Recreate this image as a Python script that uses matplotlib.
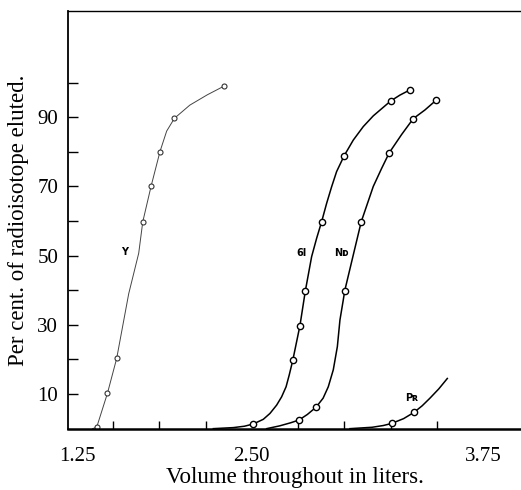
import matplotlib
matplotlib.use("Agg")
import matplotlib.pyplot as plt

# volume (liters) / per cent eluted
y_pts_x = [1.662, 1.720, 1.770, 1.911, 1.956, 2.004, 2.082, 2.350]
y_pts_y = [0.4, 10.2, 20.3, 59.8, 70.1, 80.1, 89.7, 99.0]
y_line_x = [1.640, 1.662, 1.720, 1.770, 1.835, 1.889, 1.911, 1.956, 2.004, 2.040,
            2.082, 2.165, 2.260, 2.350]
y_line_y = [0.0, 0.4, 10.2, 20.3, 39.0, 50.7, 59.8, 70.1, 80.1, 86.0,
            89.7, 93.5, 96.5, 99.0]

gd_pts_x = [2.508, 2.721, 2.760, 2.789, 2.877, 2.999, 3.250, 3.354]
gd_pts_y = [1.35, 19.7, 29.8, 39.8, 59.8, 78.9, 94.7, 97.9]
gd_line_x = [2.292, 2.400, 2.460, 2.508, 2.562, 2.598, 2.634, 2.661, 2.685, 2.702,
             2.721, 2.760, 2.789, 2.823, 2.850, 2.877, 2.904, 2.931, 2.958, 2.999,
             3.048, 3.102, 3.156, 3.250, 3.300, 3.354]
gd_line_y = [0.0, 0.3, 0.7, 1.35, 2.7, 4.4, 6.8, 9.2, 12.1, 15.5,
             19.7, 29.8, 39.8, 49.7, 55.0, 59.8, 65.1, 69.9, 74.3, 78.9,
             83.4, 87.3, 90.4, 94.7, 96.4, 97.9]

nd_pts_x = [2.755, 2.847, 3.002, 3.091, 3.242, 3.372, 3.495]
nd_pts_y = [2.5, 6.2, 39.9, 59.8, 79.7, 89.6, 94.9]
nd_line_x = [2.580, 2.650, 2.710, 2.755, 2.800, 2.847, 2.885, 2.913, 2.940, 2.962,
             2.976, 2.994, 3.002, 3.048, 3.091, 3.156, 3.201, 3.242, 3.309, 3.372,
             3.435, 3.495]
nd_line_y = [0.0, 0.8, 1.7, 2.5, 4.1, 6.2, 8.8, 12.1, 17.0, 23.7,
             31.4, 37.2, 39.9, 50.2, 59.8, 70.0, 75.2, 79.7, 85.0, 89.6,
             92.1, 94.9]

pr_pts_x = [3.255, 3.376]
pr_pts_y = [1.5, 4.7]
pr_line_x = [3.030, 3.150, 3.210, 3.255, 3.320, 3.376, 3.420, 3.462, 3.510, 3.556]
pr_line_y = [0.0, 0.4, 0.9, 1.5, 2.9, 4.7, 6.6, 8.8, 11.5, 14.5]

labels = ["Y", "6l", "Nᴅ", "Pʀ"]
label_x = [1.815, 2.769, 2.985, 3.363]
label_y = [51.1, 50.8, 50.8, 8.8]

xtick_pos = [1.556, 2.50, 3.75]
xtick_lab = ["1.25", "2.50", "3.75"]
xminor = [1.75, 2.00, 2.25, 2.50, 2.75, 3.00, 3.25, 3.50, 3.75]
ytick_pos = [10, 20, 30, 40, 50, 60, 70, 80, 90, 100]
ytick_lab = ["10", "", "30", "", "50", "", "70", "", "90", ""]

serif = "Liberation Serif"

fig = plt.figure(figsize=(5.21, 4.90), dpi=100)
ax = fig.add_axes([0.1305, 0.1245, 0.8695, 0.853])

ax.plot(y_line_x, y_line_y, color="#444444", lw=0.7)
ax.plot(y_pts_x, y_pts_y, "o", mfc="white", mec="#333333", ms=3.6, mew=0.8)

for lx, ly, px, py in [(gd_line_x, gd_line_y, gd_pts_x, gd_pts_y),
                       (nd_line_x, nd_line_y, nd_pts_x, nd_pts_y),
                       (pr_line_x, pr_line_y, pr_pts_x, pr_pts_y)]:
    ax.plot(lx, ly, color="black", lw=1.1, solid_joinstyle="round")
    ax.plot(px, py, "o", mfc="white", mec="black", ms=4.5, mew=1.0)

for t, tx, ty in zip(labels, label_x, label_y):
    ax.text(tx, ty, t, fontsize=7, fontweight="bold", ha="center", va="center")

ax.set_xlim(1.507, 3.954)
ax.set_ylim(-0.1, 120.7)

ax.set_xticks(xtick_pos)
ax.set_xticklabels(xtick_lab, family=serif, fontsize=15)
ax.set_xticks(xminor, minor=True)
ax.tick_params(axis="x", which="major", length=0, pad=13)
ax.tick_params(axis="x", which="minor", direction="in", length=6, width=1)

ax.set_yticks(ytick_pos)
ax.set_yticklabels(ytick_lab, family=serif, fontsize=15)
ax.tick_params(axis="y", direction="in", length=7, width=1, pad=7)

ax.set_xlabel("Volume throughout in liters.", family=serif, fontsize=16.5, labelpad=1)
ax.set_ylabel("Per cent. of radioisotope eluted.", family=serif, fontsize=16.5, labelpad=6)

ax.spines["right"].set_visible(False)
ax.spines["left"].set_linewidth(1.3)
ax.spines["bottom"].set_linewidth(1.8)
ax.spines["top"].set_linewidth(1.0)

fig.savefig("out.png", dpi=100)
